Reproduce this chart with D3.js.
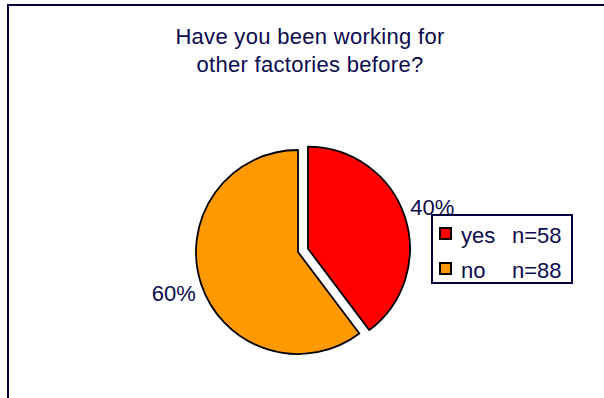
<!DOCTYPE html>
<html>
<head>
<meta charset="utf-8">
<script src="https://cdn.jsdelivr.net/npm/d3@7"></script>
<style>
  body { margin: 0; background: #fff; }
  svg { display: block; font-family: Arial, "Liberation Sans", sans-serif; }
</style>
</head>
<body>
<div id="chart"></div>
<script>
// answers to the question
var categories = ['yes', 'no'];
var counts = [58, 88];
var colors = ['#ff0000', '#ff9900'];
var titleLines = ['Have you been working for', 'other factories before?'];

var width = 604, height = 398;
var ink = '#0b0b4d';

var svg = d3.select('#chart').append('svg')
  .attr('width', width)
  .attr('height', height);

// frame runs off the right and bottom edge
svg.append('rect')
  .attr('x', 8).attr('y', 5)
  .attr('width', 700).attr('height', 500)
  .attr('fill', 'none')
  .attr('stroke', '#000040')
  .attr('stroke-width', 2);

var title = svg.append('text')
  .attr('text-anchor', 'middle')
  .attr('fill', ink)
  .style('font-size', '22px')
  .style('letter-spacing', '0.3px');
title.selectAll('tspan')
  .data(titleLines)
  .enter()
  .append('tspan')
  .attr('x', 310)
  .attr('y', function(d, i) { return 44 + i * 28; })
  .text(function(d) { return d; });

var data = categories.map(function(c, i) { return { name: c, count: counts[i], color: colors[i] }; });
var total = d3.sum(counts);
var pct = d3.format('.0%');

var cx = 298, cy = 252, r = 102, explode = 10.5, labelR = 131;

var pie = d3.pie().sort(null).value(function(d) { return d.count; });
var arcs = pie(data);
var arc = d3.arc().innerRadius(0).outerRadius(r);
var labelArc = d3.arc().innerRadius(labelR).outerRadius(labelR);

var offset = function(d) {
  if (d.index !== 0) return [0, 0];
  var a = (d.startAngle + d.endAngle) / 2;
  return [Math.sin(a) * explode, -Math.cos(a) * explode];
};

var g = svg.append('g').attr('transform', 'translate(' + cx + ',' + cy + ')');

var slices = g.selectAll('g.slice')
  .data(arcs)
  .enter()
  .append('g')
  .attr('class', 'slice')
  .attr('transform', function(d) { var o = offset(d); return 'translate(' + o[0] + ',' + o[1] + ')'; });

slices.append('path')
  .attr('d', arc)
  .attr('fill', function(d) { return d.data.color; })
  .attr('stroke', '#000')
  .attr('stroke-width', 1.8)
  .attr('stroke-linejoin', 'round');

slices.append('text')
  .attr('transform', function(d) { return 'translate(' + labelArc.centroid(d) + ')'; })
  .attr('text-anchor', 'middle')
  .attr('dy', '0.35em')
  .attr('fill', ink)
  .style('font-size', '22px')
  .text(function(d) { return pct(d.data.count / total); });

// legend
var legend = svg.append('g').attr('transform', 'translate(432,215)');
legend.append('rect')
  .attr('width', 140).attr('height', 68)
  .attr('fill', '#fff')
  .attr('stroke', '#000040')
  .attr('stroke-width', 2);

var rows = legend.selectAll('g.row')
  .data(data)
  .enter()
  .append('g')
  .attr('class', 'row')
  .attr('transform', function(d, i) { return 'translate(0,' + (i * 35) + ')'; });

rows.append('rect')
  .attr('x', 8).attr('y', 13)
  .attr('width', 11).attr('height', 11)
  .attr('fill', function(d) { return d.color; })
  .attr('stroke', '#000')
  .attr('stroke-width', 2);

rows.append('text')
  .attr('x', 29).attr('y', 28)
  .attr('fill', ink)
  .style('font-size', '22px')
  .text(function(d) { return d.name; });

rows.append('text')
  .attr('x', 80).attr('y', 28)
  .attr('fill', ink)
  .style('font-size', '22px')
  .text(function(d) { return 'n=' + d.count; });
</script>
</body>
</html>
